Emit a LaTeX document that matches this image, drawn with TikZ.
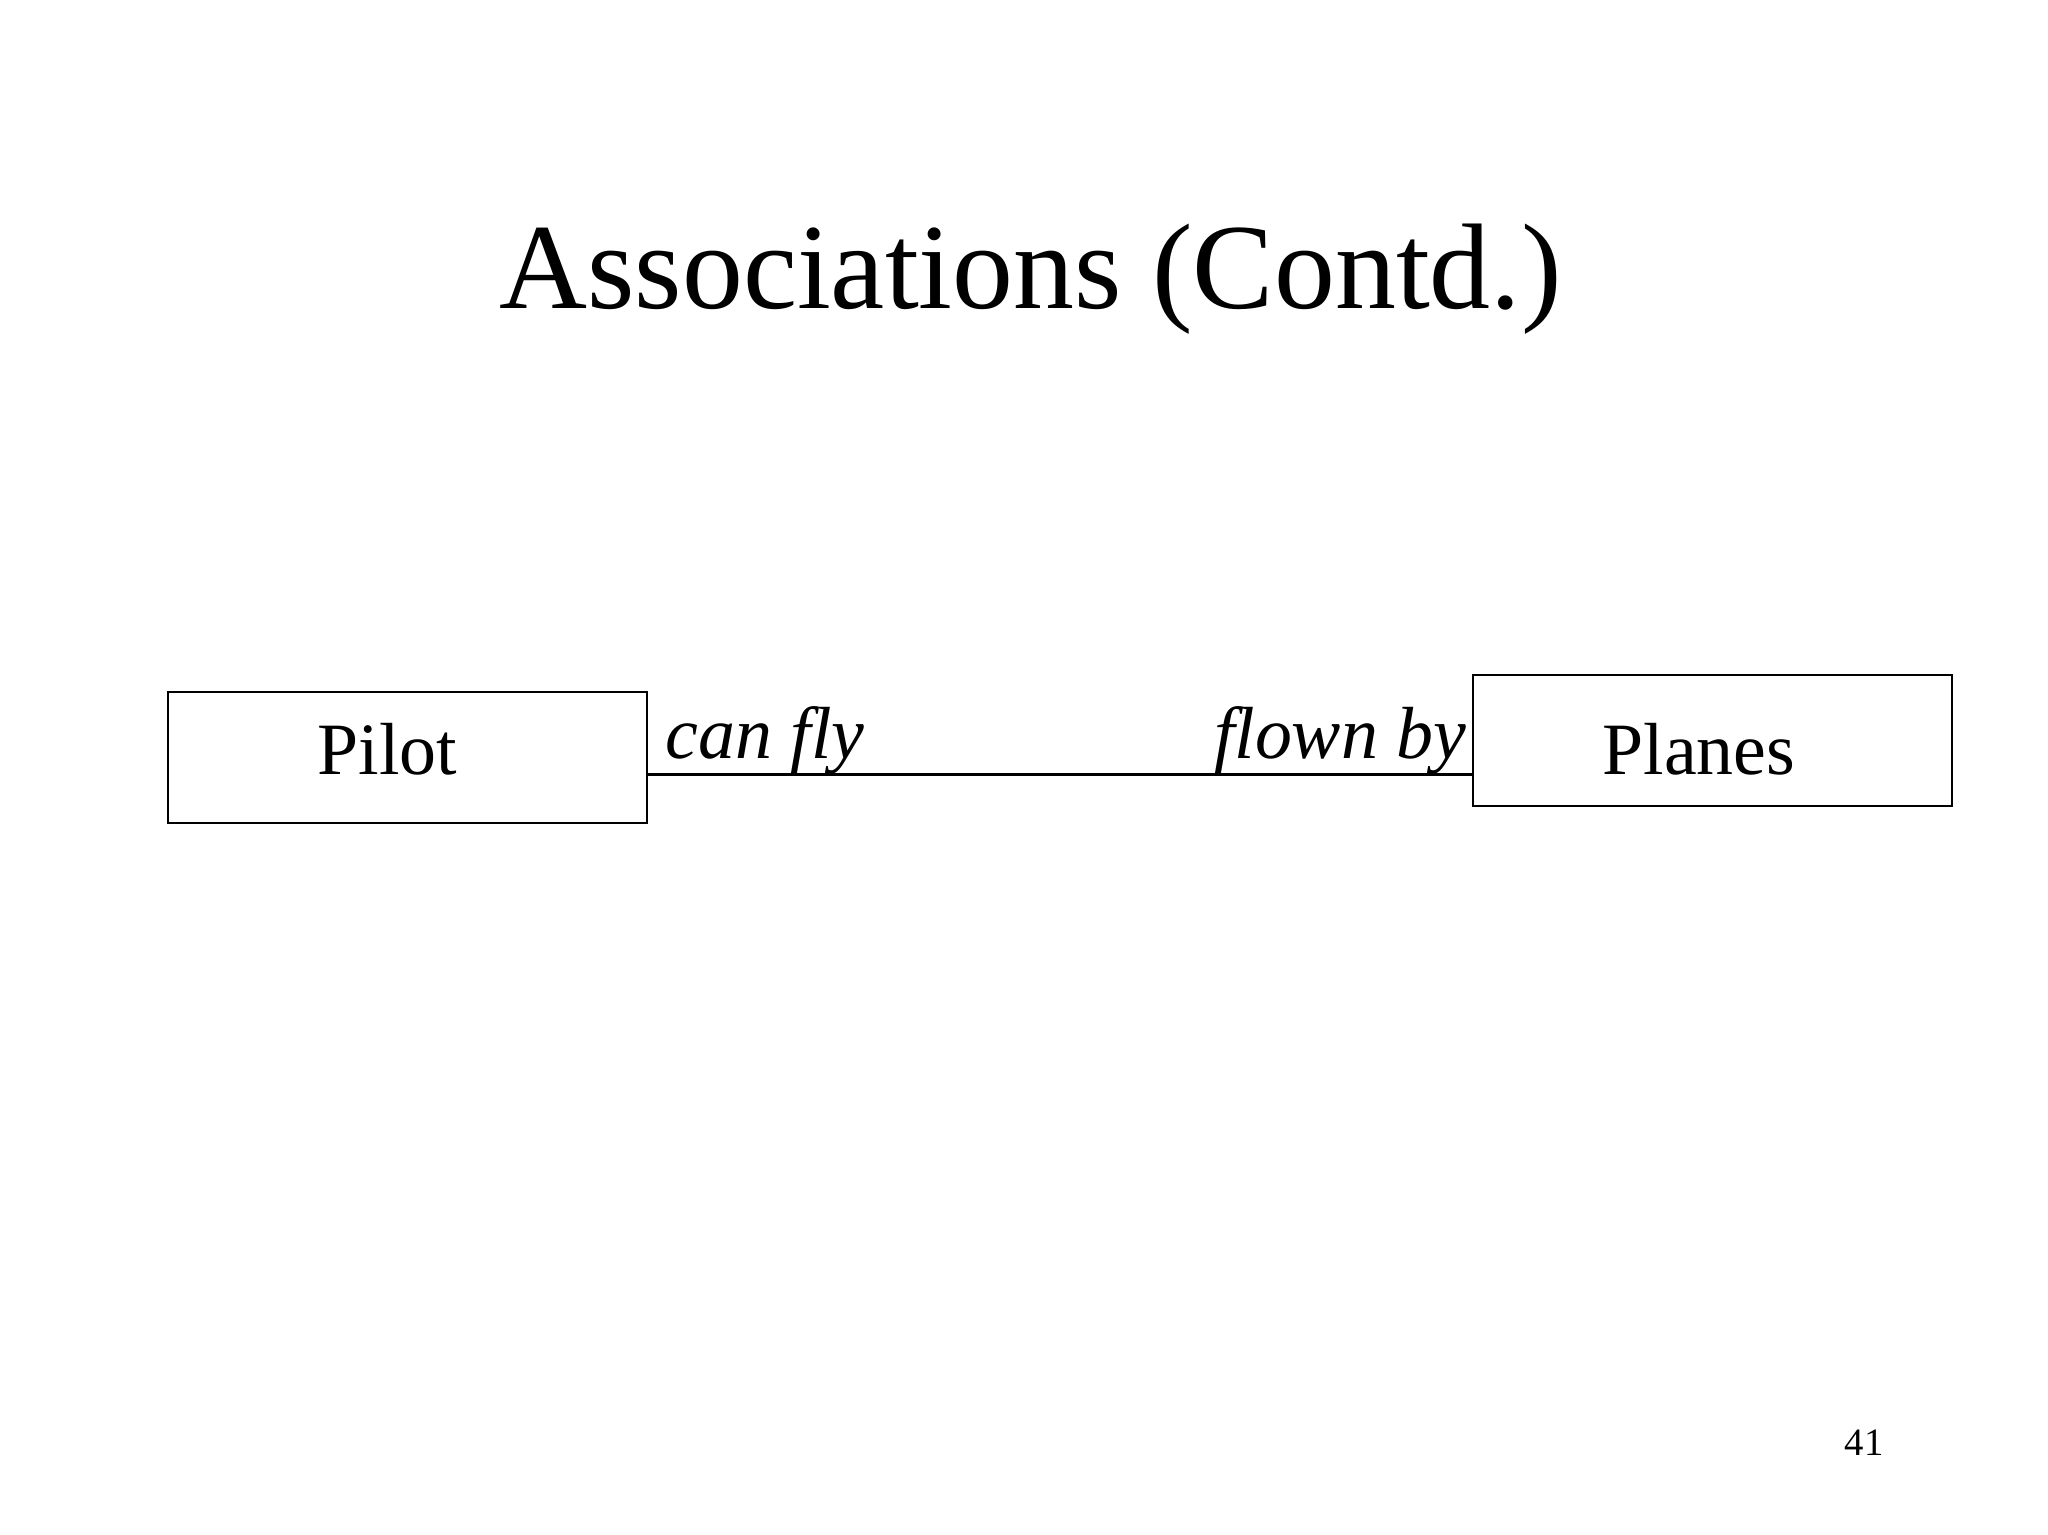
\documentclass[tikz,border=0pt]{standalone}
\usepackage{fontspec}
\setmainfont{Liberation Serif}
\begin{document}
\begin{tikzpicture}[x=0.05cm,y=-0.05cm,
  box/.style={draw,line width=2.6pt,inner sep=0},
  big/.style={font=\fontsize{80}{96}\selectfont}]
\useasboundingbox (0,0) rectangle (1560,1168.6);
\node[font=\fontsize{132}{158}\selectfont,anchor=base] (title) at (785,235) {Associations (Contd.)};
\draw[box] (128,527) rectangle (493,627);
\draw[box] (1122,514) rectangle (1487,614);
\node[big,anchor=base] (pilot) at (295,590) {Pilot};
\node[big,anchor=base] (planes) at (1294,590) {Planes};
\coordinate (a) at (493,590);
\coordinate (b) at (1122,590);
\draw[line width=2.6pt] (a) -- (b);
\node[big,font=\fontsize{80}{96}\selectfont\itshape,anchor=base west,inner sep=0] (cf) at (507,578) {can fly};
\node[big,font=\fontsize{80}{96}\selectfont\itshape,anchor=base east,inner sep=0] (fb) at (1117,578) {flown by};
\node[font=\fontsize{42}{50}\selectfont,anchor=base] (num) at (1420,1109) {41};
\end{tikzpicture}
\end{document}
